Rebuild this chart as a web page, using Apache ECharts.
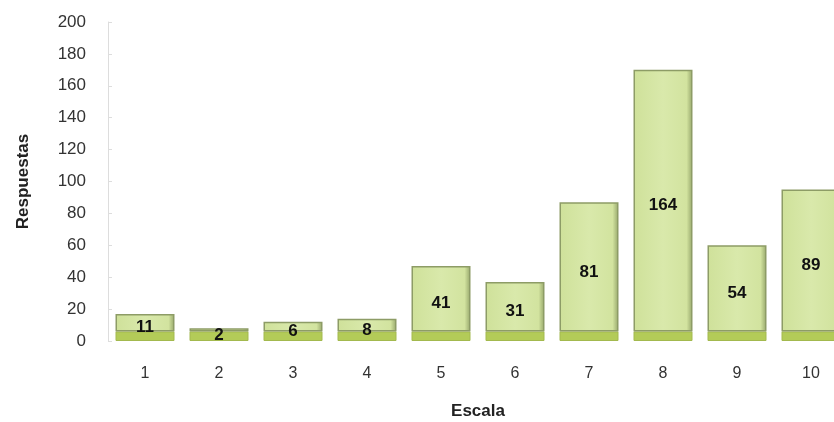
<!DOCTYPE html>
<html><head><meta charset="utf-8">
<script src="https://cdn.jsdelivr.net/npm/echarts@6/dist/echarts.min.js"></script>
<style>html,body{margin:0;padding:0;background:#fff}#c{width:834px;height:422px}</style>
</head><body><div id="c"></div>
<script>
const categories = ['1','2','3','4','5','6','7','8','9','10'];
const respuestas = [11, 2, 6, 8, 41, 31, 81, 164, 54, 89];
const floorDepth = 6;
const yTicks = [0, 200, 20];

const chart = echarts.init(document.getElementById('c'));
chart.setOption({
  animation: false,
  backgroundColor: '#fff',
  grid: { left: 108, width: 740, top: 22, height: 319, outerBoundsMode: 'none', containLabel: false },
  xAxis: {
    type: 'category', data: categories,
    name: 'Escala', nameLocation: 'middle', nameGap: 62,
    nameTextStyle: { fontFamily: 'Liberation Sans', fontWeight: 'bold', fontSize: 17, color: '#222' },
    axisLine: { show: false }, axisTick: { show: false },
    axisLabel: { fontFamily: 'Liberation Sans', fontSize: 16, color: '#333', margin: 25 }
  },
  yAxis: {
    type: 'value', min: yTicks[0], max: yTicks[1], interval: yTicks[2],
    name: 'Respuestas', nameLocation: 'middle', nameGap: 76, nameRotate: 90,
    nameTextStyle: { fontFamily: 'Liberation Sans', fontWeight: 'bold', fontSize: 17, color: '#222' },
    axisLine: { show: true, lineStyle: { color: '#ddd' } },
    axisTick: { show: true, length: 4, inside: true, lineStyle: { color: '#ddd' } },
    splitLine: { show: false },
    axisLabel: { fontFamily: 'Liberation Sans', fontSize: 17, color: '#333', margin: 22 }
  },
  series: [
    {
      type: 'bar', stack: 's', barWidth: 59,
      data: categories.map(() => floorDepth),
      itemStyle: { color: '#b3cb58', borderColor: '#a3b94e', borderWidth: 1 },
      silent: true
    },
    {
      type: 'bar', stack: 's', barWidth: 59,
      data: respuestas,
      itemStyle: {
        color: new echarts.graphic.LinearGradient(0, 0, 1, 0, [
          { offset: 0, color: '#cfe19a' },
          { offset: 0.5, color: '#d9e9ab' },
          { offset: 0.9, color: '#d2e39f' },
          { offset: 1, color: '#95a56a' }
        ]),
        borderColor: '#8d9c66', borderWidth: 1.5
      },
      label: {
        show: true, position: 'inside', offset: [0, 5],
        fontFamily: 'Liberation Sans', fontWeight: 'bold', fontSize: 17, color: '#111'
      }
    }
  ]
});
</script></body></html>
